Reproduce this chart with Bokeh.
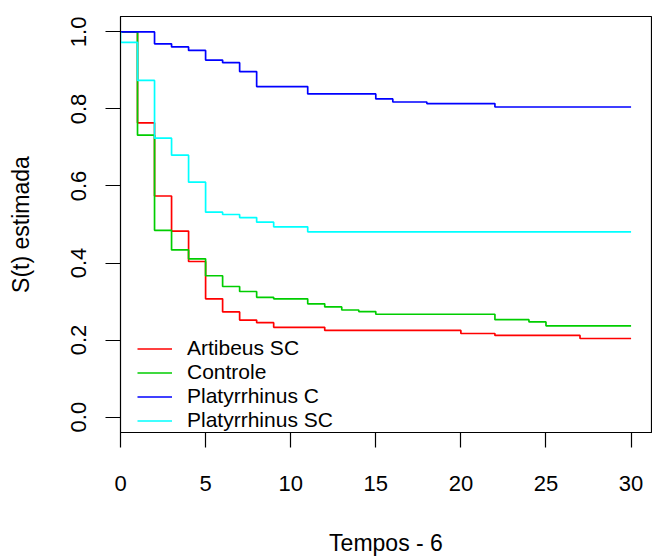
from bokeh.plotting import figure
from bokeh.models import Range1d, FixedTicker, Legend, LegendItem
from bokeh.embed import file_html
from bokeh.resources import INLINE

# ---- data ----
groups = ["Artibeus SC", "Controle", "Platyrrhinus C", "Platyrrhinus SC"]
colors = ["#FF0000", "#00CD00", "#0000FF", "#00FFFF"]

artibeus_t = [0, 1, 2, 3, 4, 5, 6, 7, 8, 9, 12, 20, 22, 27, 30]
artibeus_s = [1.0, 0.764, 0.574, 0.483, 0.404, 0.307, 0.273, 0.252, 0.245, 0.233,
              0.225, 0.217, 0.212, 0.204, 0.204]

controle_t = [0, 1, 2, 3, 4, 5, 6, 7, 8, 9, 11, 12, 13, 14, 15, 22, 24, 25, 30]
controle_s = [1.0, 0.732, 0.485, 0.434, 0.411, 0.367, 0.339, 0.326, 0.311, 0.307,
              0.294, 0.286, 0.278, 0.274, 0.267, 0.253, 0.247, 0.237, 0.237]

platc_t = [0, 2, 3, 4, 5, 6, 7, 8, 11, 15, 16, 18, 22, 30]
platc_s = [1.0, 0.969, 0.961, 0.952, 0.927, 0.920, 0.897, 0.858, 0.839, 0.826,
           0.818, 0.814, 0.805, 0.805]

platsc_t = [0, 0, 1, 2, 3, 4, 5, 6, 7, 8, 9, 11, 30]
platsc_s = [1.0, 0.973, 0.874, 0.724, 0.680, 0.610, 0.532, 0.526, 0.518, 0.506,
            0.494, 0.481, 0.481]

x_ticks = [0, 5, 10, 15, 20, 25, 30]
y_ticks = [0.0, 0.2, 0.4, 0.6, 0.8, 1.0]
y_tick_labels = ["0.0", "0.2", "0.4", "0.6", "0.8", "1.0"]

series_t = [artibeus_t, controle_t, platc_t, platsc_t]
series_s = [artibeus_s, controle_s, platc_s, platsc_s]

FONT = "Liberation Sans"

p = figure(width=652, height=558, output_backend="svg", toolbar_location=None,
           x_range=Range1d(0, 31.2), y_range=Range1d(-0.04, 1.04),
           min_border_left=120, min_border_right=1, min_border_top=16,
           min_border_bottom=116)

p.grid.visible = False
p.outline_line_color = "black"
p.outline_line_width = 1.2
p.background_fill_color = "white"
p.border_fill_color = "white"

items = []
for name, col, t, s in zip(groups, colors, series_t, series_s):
    r = p.step(t, s, mode="after", line_color=col, line_width=1.7)
    items.append(LegendItem(label=name, renderers=[r]))

legend = Legend(items=items, location=(17, 0), border_line_color=None,
                background_fill_alpha=0, padding=0, margin=0, spacing=0,
                label_height=23, glyph_height=23, glyph_width=35,
                label_standoff=15, label_text_font=FONT,
                label_text_font_size="21px", label_text_color="black")
p.add_layout(legend, "center")

for ax in (p.xaxis[0], p.yaxis[0]):
    ax.axis_line_color = "black"
    ax.major_tick_line_color = "black"
    ax.major_tick_line_width = 1.2
    ax.major_tick_out = 15
    ax.major_tick_in = 0
    ax.minor_tick_line_color = None
    ax.major_label_text_font = FONT
    ax.major_label_text_font_size = "22px"
    ax.major_label_text_color = "black"
    ax.axis_label_text_font = FONT
    ax.axis_label_text_font_size = "23px"
    ax.axis_label_text_font_style = "normal"
    ax.axis_label_text_color = "black"

p.xaxis.ticker = FixedTicker(ticks=x_ticks)
p.yaxis.ticker = FixedTicker(ticks=y_ticks)
p.yaxis.major_label_overrides = {v: l for v, l in zip(y_ticks, y_tick_labels)}
p.yaxis.major_label_orientation = "vertical"
p.xaxis.major_label_standoff = 28
p.yaxis.major_label_standoff = 19
p.xaxis.axis_label = "Tempos - 6"
p.yaxis.axis_label = "S(t) estimada"
p.xaxis.axis_label_standoff = 36
p.yaxis.axis_label_standoff = 35

open("out.html", "w").write(file_html(p, INLINE))
